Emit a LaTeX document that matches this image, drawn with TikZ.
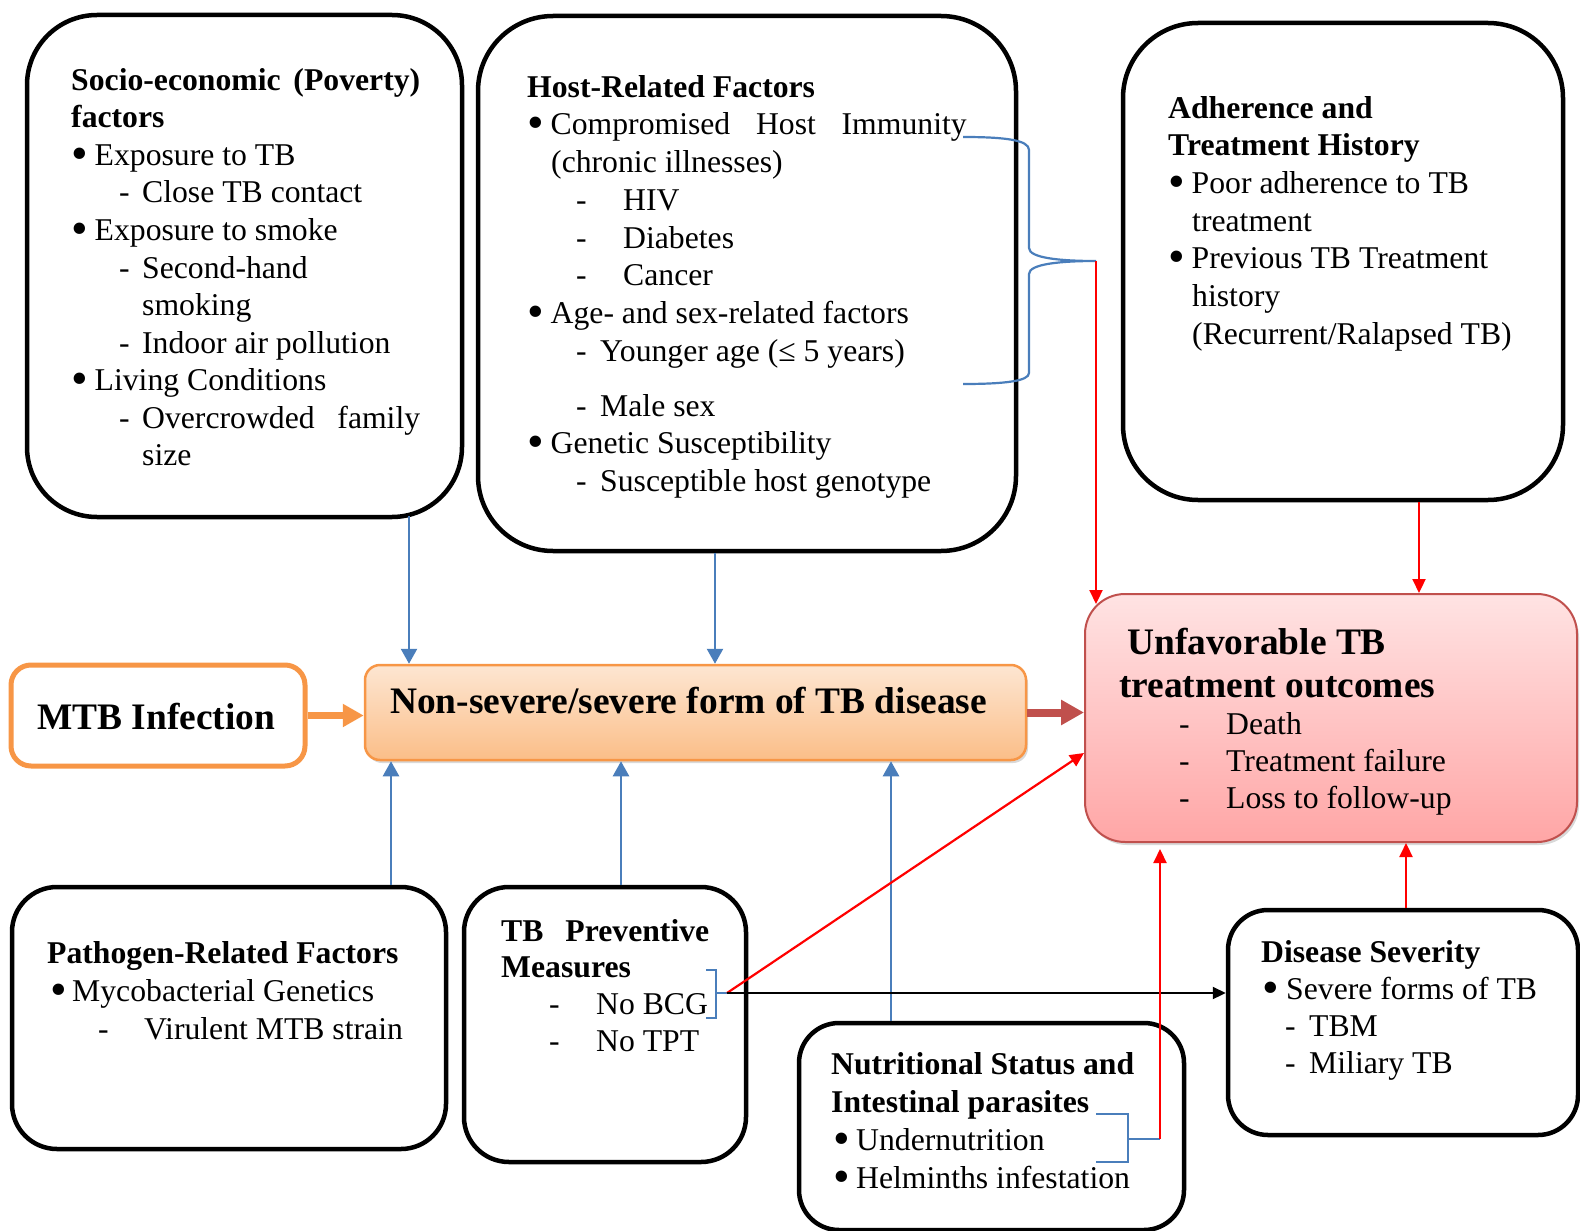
\documentclass[tikz,border=0pt]{standalone}
\usepackage{fontspec}
\setmainfont{Liberation Serif}
\usetikzlibrary{arrows.meta,shadows,calc}
\definecolor{bl}{HTML}{4A7EBB}
\definecolor{orng}{HTML}{F79646}
\definecolor{dred}{HTML}{C0504D}
\definecolor{nsTop}{HTML}{FDE6D2}
\definecolor{nsBot}{HTML}{FBBE88}
\definecolor{ufTop}{HTML}{FFE3E3}
\definecolor{ufBot}{HTML}{FFA6A6}
\newcommand\Lx[2]{\hbox{\kern#1pt\relax#2}}
\newcommand\bigbul{\smash{\raisebox{-4pt}{\scalebox{1.5}{\textbullet}}}}
\newcommand\bul{\makebox[23.5pt][l]{\bigbul}}
\newcommand\dsh[1]{\makebox[#1][l]{-}}
\tikzset{
  bbox/.style={draw=black, line width=4.5pt, rounded corners=#1, fill=white, inner sep=0pt},
  txt/.style={inner sep=0pt, anchor=base west, font=\fontsize{31.7}{37.6}\selectfont},
  ttl/.style={inner sep=0pt, anchor=base west, font=\fontsize{37.4}{43}\selectfont\bfseries},
  bluearr/.style={draw=bl, line width=2.5pt, -{Triangle[length=15pt,width=16pt]}},
  redarr/.style={draw=red, line width=2.2pt, -{Triangle[length=14pt,width=13pt]}},
  blkarr/.style={draw=black, line width=2.2pt, -{Triangle[length=13pt,width=12pt]}},
  brk/.style={draw=bl, line width=2.2pt},
}
\begin{document}
\begin{tikzpicture}[x=1pt,y=-1pt]
\useasboundingbox (0,0) rectangle (1580,1231);

% boxes
\node[bbox=70pt, minimum width=435pt, minimum height=502pt] (socio) at (244.5,266) {};
\node[bbox=75pt, minimum width=538pt, minimum height=535pt] (host) at (747,283.5) {};
\node[bbox=75pt, minimum width=440pt, minimum height=477pt] (adher) at (1343,261.5) {};
\node[draw=orng, line width=5pt, rounded corners=20pt, fill=white, inner sep=0pt,
      minimum width=294pt, minimum height=101pt] (mtb) at (158,715.5) {};
\node[draw=orng, line width=2.5pt, rounded corners=15pt, top color=nsTop, bottom color=nsBot,
      inner sep=0pt, minimum width=661pt, minimum height=95pt,
      drop shadow={shadow xshift=2pt,shadow yshift=-3pt,opacity=0.3}] (nonsev) at (695.5,712.5) {};
\node[draw=dred, line width=2pt, rounded corners=40pt, top color=ufTop, bottom color=ufBot,
      inner sep=0pt, minimum width=492pt, minimum height=248pt,
      drop shadow={shadow xshift=2pt,shadow yshift=-3pt,opacity=0.3}] (unfav) at (1331,718) {};
\node[bbox=45pt, minimum width=434pt, minimum height=262pt] (path) at (229,1018) {};
\node[bbox=45pt, minimum width=282pt, minimum height=275pt] (tbp) at (605,1024.5) {};
\node[bbox=40pt, minimum width=385pt, minimum height=207pt] (nutr) at (991.5,1126.5) {};
\node[bbox=40pt, minimum width=350pt, minimum height=225pt] (sev) at (1403,1022.5) {};

% texts
\node[txt] (socioT) at (71,90) {\vtop{\baselineskip=37.6pt
  \Lx{0}{\hbox to 349pt{\bfseries Socio-economic\hfill(Poverty)}}
  \Lx{0}{\textbf{factors}}
  \Lx{0}{\bul Exposure to TB}
  \Lx{48}{\dsh{23pt}Close TB contact}
  \Lx{0}{\bul Exposure to smoke}
  \Lx{48}{\dsh{23pt}Second-hand}
  \Lx{71}{smoking}
  \Lx{48}{\dsh{23pt}Indoor air pollution}
  \Lx{0}{\bul Living Conditions}
  \Lx{48}{\dsh{23pt}\hbox to 278pt{Overcrowded\hfill family}}
  \Lx{71}{size}}};

\node[txt] (hostT) at (527,97) {\vtop{\baselineskip=37.8pt
  \Lx{0}{\textbf{Host-Related Factors}}
  \Lx{0}{\bul\hbox to 416pt{Compromised\hfill Host\hfill Immunity}}
  \Lx{24}{(chronic illnesses)}
  \Lx{49}{\dsh{47pt}HIV}
  \Lx{49}{\dsh{47pt}Diabetes}
  \Lx{49}{\dsh{47pt}Cancer}
  \Lx{0}{\bul Age- and sex-related factors}
  \Lx{49}{\dsh{24pt}Younger age (≤ 5 years)}
  \vskip16.8pt
  \Lx{49}{\dsh{24pt}Male sex}
  \Lx{0}{\bul Genetic Susceptibility}
  \Lx{49}{\dsh{24pt}Susceptible host genotype}}};

\node[txt] (adherT) at (1168,118) {\vtop{\baselineskip=37.7pt
  \Lx{0}{\textbf{Adherence and}}
  \Lx{0}{\textbf{Treatment History}}
  \Lx{0}{\bul Poor adherence to TB}
  \Lx{24}{treatment}
  \Lx{0}{\bul Previous TB Treatment}
  \Lx{24}{history}
  \Lx{24}{(Recurrent/Ralapsed TB)}}};

\node[ttl] (mtbT) at (37,729) {MTB Infection};
\node[ttl] (nsT) at (390,713) {Non-severe/severe form of TB disease};

\node[ttl] (unfT) at (1119,654) {\vtop{\baselineskip=37pt
  \Lx{8}{Unfavorable TB}
  \vskip6pt
  \Lx{0}{treatment outcomes}
  \Lx{60}{\mdseries\fontsize{31.7}{37}\selectfont\dsh{47pt}Death}
  \Lx{60}{\mdseries\fontsize{31.7}{37}\selectfont\dsh{47pt}Treatment failure}
  \Lx{60}{\mdseries\fontsize{31.7}{37}\selectfont\dsh{47pt}Loss to follow-up}}};

\node[txt] (pathT) at (47,963) {\vtop{\baselineskip=38pt
  \Lx{0}{\textbf{Pathogen-Related Factors}}
  \Lx{3}{\makebox[22pt][l]{\bigbul}Mycobacterial Genetics}
  \Lx{51}{\dsh{46pt}Virulent MTB strain}}};

\node[txt] (tbpT) at (501,941) {\vtop{\baselineskip=36.7pt
  \Lx{0}{\hbox to 208pt{\bfseries TB\hfill Preventive}}
  \Lx{0}{\textbf{Measures}}
  \Lx{48}{\dsh{47pt}No BCG}
  \Lx{48}{\dsh{47pt}No TPT}}};

\node[txt] (nutrT) at (831,1074) {\vtop{\baselineskip=38pt
  \Lx{0}{\textbf{Nutritional Status and}}
  \Lx{0}{\textbf{Intestinal parasites}}
  \Lx{2}{\makebox[23pt][l]{\bigbul}Undernutrition}
  \Lx{2}{\makebox[23pt][l]{\bigbul}Helminths infestation}}};

\node[txt] (sevT) at (1261,962) {\vtop{\baselineskip=37.3pt
  \Lx{0}{\textbf{Disease Severity}}
  \Lx{1}{\makebox[24pt][l]{\bigbul}Severe forms of TB}
  \Lx{24}{\dsh{24pt}TBM}
  \Lx{24}{\dsh{24pt}Miliary TB}}};

% connectors
\coordinate (xa) at (409,0);
\coordinate (xb) at (715,0);
\coordinate (xc) at (391,0);
\coordinate (xd) at (621,0);
\coordinate (xe) at (891,0);
\coordinate (xf) at (1419,0);
\coordinate (xg) at (1406,0);
\draw[bluearr, shorten <=-3pt] (socio.south -| xa) -- (nonsev.north -| xa);
\draw[bluearr] (host.south -| xb) -- (nonsev.north -| xb);
\draw[bluearr] (path.north -| xc) -- (nonsev.south -| xc);
\draw[bluearr] (tbp.north -| xd) -- (nonsev.south -| xd);
\draw[bluearr] (nutr.north -| xe) -- (nonsev.south -| xe);
\draw[redarr] (adher.south -| xf) -- (unfav.north -| xf);
\draw[redarr] (sev.north -| xg) -- (unfav.south -| xg);

\draw[orng, line width=7pt, -{Triangle[length=21pt,width=22pt]}] (mtb.east) -- (nonsev.west |- mtb.east);
\draw[dred, line width=8pt, -{Triangle[length=23pt,width=24pt]}] (nonsev.east) -- (unfav.west |- nonsev.east);

% brace from host factors
\coordinate (btip) at (1096,261);
\draw[brk] (963,137) .. controls (1005,137) and (1029,140) .. (1029,150) -- (1029,248)
  .. controls (1029,258) and (1060,261) .. (btip)
  .. controls (1060,261) and (1029,264) .. (1029,274) -- (1029,373)
  .. controls (1029,381) and (1005,384) .. (963,384);
\draw[redarr, shorten >=-11pt] (btip) -- (unfav.north -| btip);

% preventive bracket
\coordinate (ptip) at (727,993);
\coordinate (ul) at (0,753);
\draw[brk] (706,970) -- (716,970) -- (716,1018) -- (706,1018);
\draw[brk] (716,993) -- (ptip);
\draw[redarr] (ptip) -- (unfav.west |- ul);
\draw[blkarr] (ptip) -- (sev.west |- ptip);

% nutrition bracket
\coordinate (ntip) at (1160,1139);
\draw[brk] (1096,1114) -- (1128,1114) -- (1128,1162) -- (1096,1162);
\draw[brk] (1128,1139) -- (ntip);
\draw[redarr, shorten >=6pt] (ntip) -- (unfav.south -| ntip);
\end{tikzpicture}
\end{document}
